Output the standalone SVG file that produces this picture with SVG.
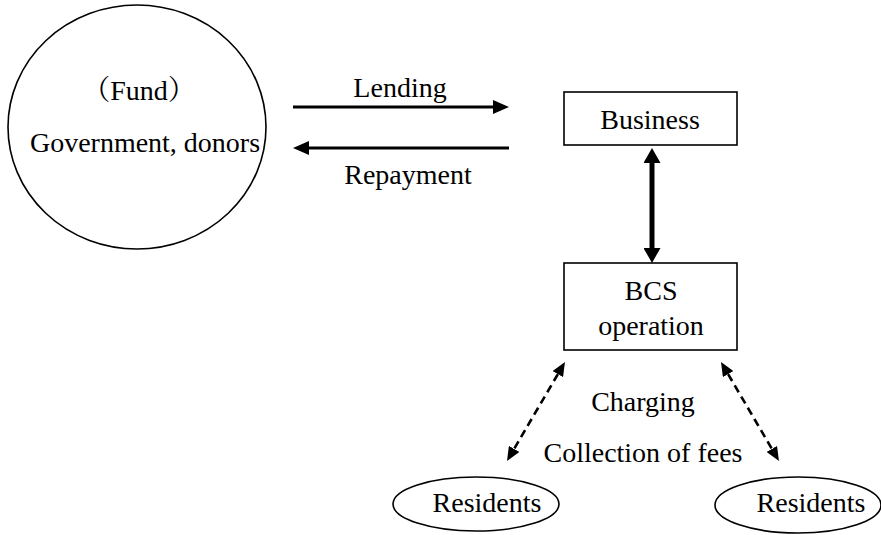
<svg xmlns="http://www.w3.org/2000/svg" width="881" height="535" viewBox="0 0 881 535" font-family="Liberation Serif, serif">
<style>
.t{font-size:28px;fill:#000;text-anchor:middle}
.shape{fill:#fff;stroke:#000;stroke-width:1.6}
.solid{fill:none;stroke:#000;stroke-width:3}
.thick{fill:none;stroke:#000;stroke-width:5}
.dash{fill:none;stroke:#000;stroke-width:2.6;stroke-dasharray:8 5}
</style>
<defs>
<marker id="ah" markerUnits="userSpaceOnUse" markerWidth="16" markerHeight="14" refX="0" refY="7" orient="auto-start-reverse"><path d="M0,0 L16,7 L0,14 z" fill="#000"/></marker>
<marker id="ahb" markerUnits="userSpaceOnUse" markerWidth="15" markerHeight="17" refX="0" refY="8.5" orient="auto-start-reverse"><path d="M0,0 L15,8.5 L0,17 z" fill="#000"/></marker>
<marker id="ahd" markerUnits="userSpaceOnUse" markerWidth="14" markerHeight="12" refX="0" refY="6" orient="auto-start-reverse"><path d="M0,0 L14,6 L0,12 z" fill="#000"/></marker>
</defs>
<g id="fund">
<ellipse class="shape" cx="137" cy="127" rx="129" ry="122"/>
<text class="t" font-family="'Liberation Serif', 'Noto Serif CJK SC', 'Noto Sans CJK SC', serif" x="139" y="100">（Fund）</text>
<text class="t" x="145" y="152">Government, donors</text>
</g>
<g id="business">
<rect class="shape" x="564" y="92" width="173" height="53"/>
<text class="t" x="650" y="129">Business</text>
</g>
<g id="bcs">
<rect class="shape" x="564" y="263" width="173" height="87"/>
<text class="t" x="651" y="300">BCS</text>
<text class="t" x="651" y="335">operation</text>
</g>
<g id="residents1">
<ellipse class="shape" cx="476" cy="504" rx="83" ry="27"/>
<text class="t" x="487" y="512">Residents</text>
</g>
<g id="residents2">
<ellipse class="shape" cx="798" cy="505" rx="83" ry="28"/>
<text class="t" x="811" y="512">Residents</text>
</g>
<g id="connectors">
<path class="solid" d="M293,107 L493,107" marker-end="url(#ah)"/>
<path class="solid" d="M509,148 L309,148" marker-end="url(#ah)"/>
<path class="thick" d="M652,163 L652,248" marker-start="url(#ahb)" marker-end="url(#ahb)"/>
<path class="dash" d="M557.9,374.1 L514.1,448.9" marker-start="url(#ahd)" marker-end="url(#ahd)"/>
<path class="dash" d="M728.1,374.1 L771.9,448.9" marker-start="url(#ahd)" marker-end="url(#ahd)"/>
<text class="t" x="400" y="97">Lending</text>
<text class="t" x="408" y="184">Repayment</text>
<text class="t" x="643" y="411">Charging</text>
<text class="t" x="643" y="462">Collection of fees</text>
</g>
</svg>
